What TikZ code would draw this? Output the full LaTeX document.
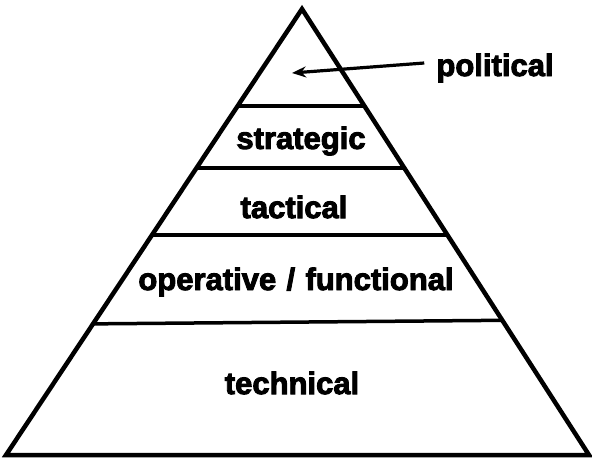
\documentclass[tikz,border=0pt]{standalone}
\usepackage{fontspec}
\newfontfamily\lvlfont[FakeBold=3]{Liberation Sans Bold}
\usetikzlibrary{calc,arrows.meta}

\tikzset{
  level/.style={font=\lvlfont\fontsize{31}{34}\selectfont,inner sep=0pt},
  divider/.style={line width=3.5pt},
}

\begin{document}
\begin{tikzpicture}[x=1pt,y=-1pt]
  \useasboundingbox (0,0) rectangle (592,459);
  \coordinate (top) at (302,9);
  \coordinate (bl) at (6,455);
  \coordinate (br) at (589,455);
  \draw[line width=4.5pt,line join=miter] (top) -- (bl) -- (br) -- cycle;
  \draw[divider] ($(top)!0.2175!(bl)$) -- ($(top)!0.2175!(br)$);
  \draw[divider] ($(top)!0.3565!(bl)$) -- ($(top)!0.3565!(br)$);
  \draw[divider] ($(top)!0.5067!(bl)$) -- ($(top)!0.5067!(br)$);
  \draw[divider] ($(top)!0.706!(bl)$) -- ($(top)!0.698!(br)$);
  \node[level] (political) at (495,68) {political};
  \node[level] (strategic) at (301,141) {strategic};
  \node[level] (tactical) at (294,207) {tactical};
  \node[level] (operative) at (296,282) {operative\,\,/\,\,functional};
  \node[level] (technical) at (292,383) {technical};
  \coordinate (tip) at (292,73);
  \draw[line width=3.2pt,-{Stealth[length=14pt,width=11pt]}] ([xshift=-12pt,yshift=5pt]political.west) -- (tip);
\end{tikzpicture}
\end{document}
